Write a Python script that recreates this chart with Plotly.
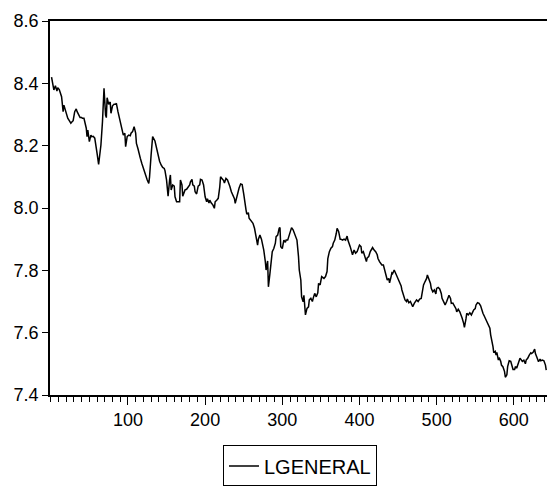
import plotly.graph_objects as go

obs = [1, 2, 4, 6, 8, 9, 11, 14, 15, 16, 17, 19, 21, 22, 24, 26, 27, 29, 31, 33, 34, 36, 38, 40, 41, 43,
       45, 46, 47, 48, 50, 52, 53, 55, 57, 58, 60, 62, 64, 65, 67, 69, 71, 72, 73, 75, 77, 78, 80, 82, 84,
       85, 87, 89, 90, 92, 94, 96, 97, 99, 101, 103, 104, 106, 108, 110, 111, 113, 115, 116, 118, 120, 122,
       123, 125, 127, 128, 130, 132, 135, 137, 139, 141, 143, 145, 147, 148, 150, 152, 154, 155, 156, 158,
       160, 161, 163, 165, 167, 168, 170, 171, 173, 174, 176, 178, 180, 181, 183, 184, 186, 187, 189, 191,
       193, 194, 196, 198, 199, 200, 202, 203, 205, 206, 208, 210, 212, 213, 215, 217, 219, 220, 222, 224,
       225, 227, 229, 231, 232, 234, 236, 238, 239, 241, 243, 244, 246, 248, 250, 251, 253, 254, 256, 257,
       259, 262, 264, 266, 268, 269, 271, 273, 275, 276, 278, 279, 281, 282, 284, 286, 287, 289, 291, 292,
       294, 296, 297, 298, 300, 302, 304, 305, 307, 309, 311, 312, 314, 316, 317, 319, 321, 322, 324, 325,
       327, 328, 330, 332, 334, 335, 337, 339, 340, 342, 344, 346, 347, 349, 351, 353, 354, 356, 358, 359,
       361, 363, 365, 366, 368, 370, 371, 373, 375, 376, 378, 380, 382, 384, 385, 388, 390, 391, 393, 395,
       397, 398, 400, 402, 403, 405, 407, 409, 410, 412, 414, 416, 417, 419, 421, 423, 424, 426, 428, 429,
       431, 433, 435, 436, 438, 439, 441, 442, 443, 445, 447, 449, 450, 452, 454, 455, 457, 459, 461, 462,
       464, 466, 468, 469, 471, 473, 474, 476, 478, 480, 481, 483, 485, 487, 488, 490, 492, 493, 495, 497,
       499, 500, 502, 504, 506, 507, 509, 511, 513, 514, 516, 518, 519, 521, 523, 525, 526, 528, 530, 532,
       533, 535, 536, 538, 539, 541, 543, 545, 546, 548, 550, 551, 553, 555, 557, 558, 560, 562, 564, 565,
       567, 569, 570, 572, 573, 574, 576, 577, 578, 580, 581, 583, 584, 586, 588, 589, 591, 592, 594, 596,
       597, 599, 601, 602, 604, 606, 608, 609, 611, 613, 615, 616, 618, 620, 622, 623, 625, 627, 628, 630,
       632, 634, 635, 637, 639, 641, 642]

lgeneral = [8.420, 8.400, 8.379, 8.392, 8.375, 8.386, 8.380, 8.357, 8.333, 8.309, 8.330, 8.310, 8.298,
            8.288, 8.280, 8.272, 8.275, 8.280, 8.309, 8.318, 8.310, 8.300, 8.290, 8.290, 8.288, 8.288,
            8.272, 8.256, 8.229, 8.250, 8.213, 8.234, 8.229, 8.230, 8.224, 8.202, 8.175, 8.140, 8.175,
            8.202, 8.277, 8.384, 8.298, 8.290, 8.354, 8.333, 8.340, 8.304, 8.328, 8.333, 8.333, 8.336,
            8.310, 8.290, 8.279, 8.262, 8.234, 8.240, 8.197, 8.229, 8.234, 8.232, 8.240, 8.245, 8.261,
            8.240, 8.207, 8.190, 8.175, 8.160, 8.143, 8.127, 8.114, 8.098, 8.090, 8.079, 8.100, 8.170,
            8.229, 8.215, 8.190, 8.170, 8.150, 8.138, 8.130, 8.127, 8.120, 8.090, 8.038, 8.090, 8.106,
            8.058, 8.074, 8.070, 8.036, 8.020, 8.020, 8.020, 8.090, 8.074, 8.038, 8.050, 8.058, 8.060,
            8.068, 8.074, 8.084, 8.092, 8.074, 8.070, 8.052, 8.045, 8.070, 8.074, 8.092, 8.090, 8.074,
            8.042, 8.036, 8.020, 8.030, 8.016, 8.025, 8.016, 8.010, 7.999, 8.020, 8.025, 8.031, 8.068,
            8.100, 8.094, 8.088, 8.080, 8.095, 8.090, 8.080, 8.070, 8.052, 8.040, 8.030, 8.015, 8.036,
            8.060, 8.064, 8.077, 8.075, 8.045, 8.020, 7.994, 7.980, 7.985, 7.967, 7.960, 7.951, 7.935,
            7.908, 7.881, 7.900, 7.913, 7.900, 7.881, 7.865, 7.828, 7.801, 7.830, 7.747, 7.790, 7.833,
            7.860, 7.870, 7.887, 7.908, 7.913, 7.935, 7.937, 7.876, 7.870, 7.897, 7.890, 7.897, 7.897,
            7.913, 7.935, 7.937, 7.930, 7.918, 7.908, 7.897, 7.844, 7.801, 7.769, 7.715, 7.699, 7.720,
            7.657, 7.678, 7.683, 7.705, 7.710, 7.700, 7.710, 7.726, 7.715, 7.728, 7.758, 7.753, 7.780,
            7.774, 7.774, 7.780, 7.796, 7.838, 7.860, 7.871, 7.876, 7.887, 7.897, 7.919, 7.935, 7.925,
            7.900, 7.900, 7.897, 7.900, 7.897, 7.910, 7.897, 7.876, 7.855, 7.850, 7.865, 7.855, 7.860,
            7.870, 7.881, 7.876, 7.855, 7.860, 7.844, 7.828, 7.840, 7.844, 7.860, 7.871, 7.873, 7.865,
            7.860, 7.850, 7.838, 7.828, 7.822, 7.817, 7.817, 7.801, 7.785, 7.769, 7.774, 7.760, 7.780,
            7.792, 7.790, 7.801, 7.790, 7.780, 7.774, 7.764, 7.750, 7.737, 7.721, 7.705, 7.700, 7.708,
            7.696, 7.700, 7.689, 7.683, 7.694, 7.700, 7.705, 7.700, 7.708, 7.710, 7.731, 7.753, 7.764,
            7.774, 7.785, 7.770, 7.758, 7.742, 7.731, 7.737, 7.724, 7.742, 7.745, 7.740, 7.726, 7.710,
            7.700, 7.689, 7.700, 7.705, 7.720, 7.710, 7.694, 7.695, 7.686, 7.677, 7.667, 7.675, 7.667,
            7.657, 7.647, 7.630, 7.617, 7.644, 7.662, 7.657, 7.664, 7.657, 7.662, 7.673, 7.677, 7.689,
            7.696, 7.694, 7.686, 7.675, 7.662, 7.652, 7.640, 7.632, 7.620, 7.614, 7.593, 7.571, 7.555,
            7.536, 7.540, 7.528, 7.537, 7.512, 7.520, 7.508, 7.496, 7.490, 7.475, 7.457, 7.465, 7.491,
            7.510, 7.508, 7.500, 7.482, 7.482, 7.490, 7.488, 7.500, 7.518, 7.515, 7.508, 7.512, 7.500,
            7.512, 7.518, 7.528, 7.535, 7.533, 7.537, 7.547, 7.533, 7.520, 7.507, 7.515, 7.510, 7.512,
            7.510, 7.496, 7.480]

x_ticks = [100, 200, 300, 400, 500, 600]
y_ticks = [7.4, 7.6, 7.8, 8.0, 8.2, 8.4, 8.6]
y_labels = ["7.4", "7.6", "7.8", "8.0", "8.2", "8.4", "8.6"]

FONT = "Arial, 'Liberation Sans', sans-serif"

fig = go.Figure()
fig.add_trace(go.Scatter(x=obs, y=lgeneral, mode="lines", name="LGENERAL",
                         line=dict(color="black", width=1.5)))

fig.update_layout(
    width=547, height=489,
    margin=dict(l=50, r=0, t=21, b=94, autoexpand=False),
    paper_bgcolor="white", plot_bgcolor="white",
    font=dict(family=FONT, size=18, color="black"),
    showlegend=True,
    legend=dict(orientation="h", x=0.503, xanchor="center", y=-0.135, yanchor="top",
                bordercolor="black", borderwidth=1, font=dict(size=20, family=FONT),
                bgcolor="white"),
    xaxis=dict(range=[-1, 643], tickvals=x_ticks, ticks="outside", ticklen=8, tickwidth=1,
               tickcolor="black", showgrid=False, zeroline=False, showline=True,
               linecolor="black", linewidth=1.5, mirror=True,
               minor=dict(dtick=10, tick0=0, ticks="outside", ticklen=5, tickcolor="black",
                          tickwidth=1, showgrid=False),
               tickfont=dict(size=18, family=FONT)),
    yaxis=dict(range=[7.4, 8.6], tickvals=y_ticks, ticktext=y_labels, ticks="outside",
               ticklen=6, tickwidth=1, tickcolor="black", showgrid=False, zeroline=False,
               showline=True, linecolor="black", linewidth=1.5,
               tickfont=dict(size=18, family=FONT)),
)

fig.write_html("out.html", config={"displayModeBar": False},
               post_script="document.body.style.margin='0';document.body.style.overflow='hidden';")
